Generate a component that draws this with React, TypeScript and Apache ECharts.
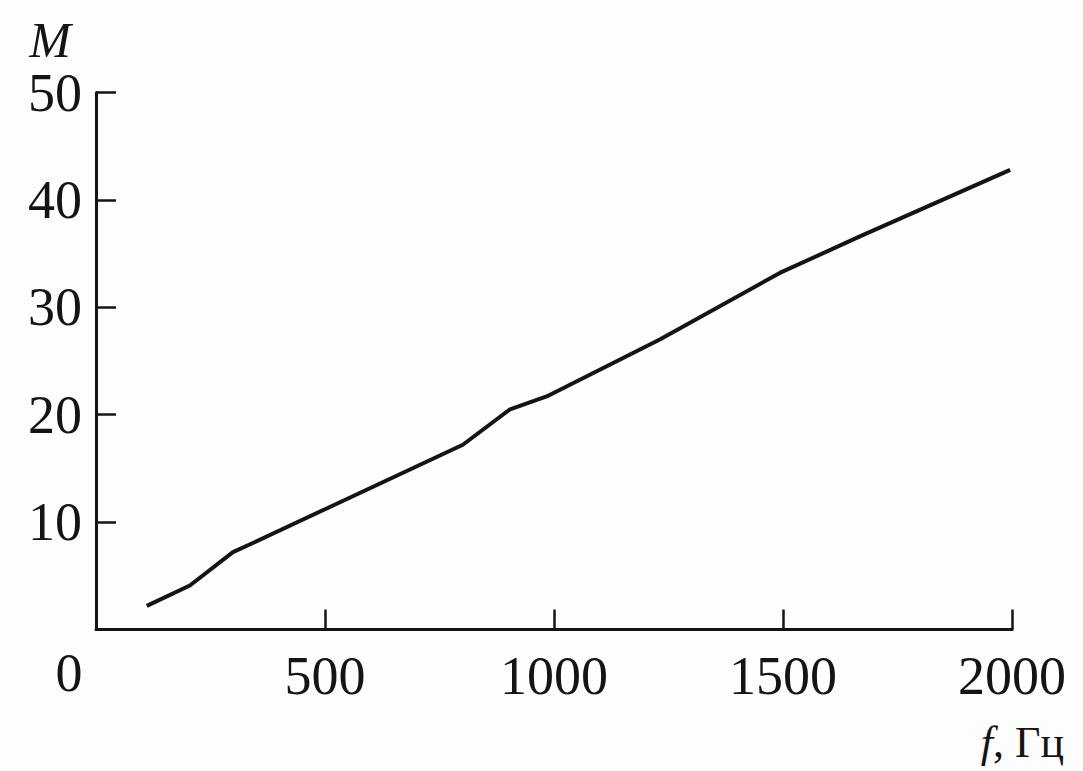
import React, { useEffect, useRef } from "react";
import * as echarts from "echarts";

const freqHz = [111, 205, 299, 345, 500, 801, 904, 984, 1231, 1493, 1668, 1996];
const mValues = [2.2, 4.1, 7.2, 8.1, 11.2, 17.2, 20.5, 21.7, 27.0, 33.2, 36.6, 42.8];
const xTicks = [0, 500, 1000, 1500, 2000];
const yTicks = [0, 10, 20, 30, 40, 50];

const SERIF = "'Liberation Serif', 'DejaVu Serif', serif";
const INK = "#141414";

export default function App() {
  const ref = useRef<HTMLDivElement>(null);

  useEffect(() => {
    document.body.style.margin = "0";
    document.body.style.background = "#fdfdfd";
    if (!ref.current) return;
    const chart = echarts.init(ref.current, null, { renderer: "svg" });
    const data = freqHz.map((f, i) => [f, mValues[i]]);
    chart.setOption({
      animation: false,
      backgroundColor: "#fdfdfd",
      grid: { left: 96, right: 71, top: 92.5, bottom: 141.5, containLabel: false },
      xAxis: {
        type: "value",
        min: xTicks[0],
        max: xTicks[xTicks.length - 1],
        interval: 500,
        splitLine: { show: false },
        axisLine: { show: true, onZero: false, lineStyle: { color: INK, width: 3 } },
        axisTick: { show: true, inside: true, length: 20, lineStyle: { color: INK, width: 2.5 } },
        axisLabel: {
          showMinLabel: false,
          margin: 19,
          fontSize: 54,
          fontFamily: SERIF,
          color: INK,
          formatter: (v: number) => String(v),
        },
      },
      yAxis: {
        type: "value",
        min: yTicks[0],
        max: yTicks[yTicks.length - 1],
        interval: 10,
        splitLine: { show: false },
        axisLine: { show: true, onZero: false, lineStyle: { color: INK, width: 3 } },
        axisTick: { show: true, inside: true, length: 20, lineStyle: { color: INK, width: 2.5 } },
        axisLabel: {
          showMinLabel: false,
          margin: 14,
          fontSize: 54,
          fontFamily: SERIF,
          color: INK,
          formatter: (v: number) => String(v),
        },
      },
      graphic: [
        {
          type: "text",
          x: 50,
          y: 40,
          style: {
            text: "M",
            font: `italic 50px ${SERIF}`,
            fill: INK,
            align: "center",
            verticalAlign: "middle",
          },
        },
        {
          type: "text",
          x: 69,
          y: 673,
          style: {
            text: "0",
            font: `54px ${SERIF}`,
            fill: INK,
            align: "center",
            verticalAlign: "middle",
          },
        },
        {
          type: "text",
          x: 1064,
          y: 742,
          style: {
            text: "{i|f}, Гц",
            rich: {
              i: { font: `italic 44px ${SERIF}`, fill: INK },
            },
            font: `44px ${SERIF}`,
            fill: INK,
            align: "right",
            verticalAlign: "middle",
          },
        },
      ],
      series: [
        {
          type: "line",
          data,
          showSymbol: false,
          smooth: false,
          lineStyle: { color: INK, width: 4 },
        },
      ],
    });
    return () => chart.dispose();
  }, []);

  return <div ref={ref} style={{ width: 1083, height: 771 }} />;
}
